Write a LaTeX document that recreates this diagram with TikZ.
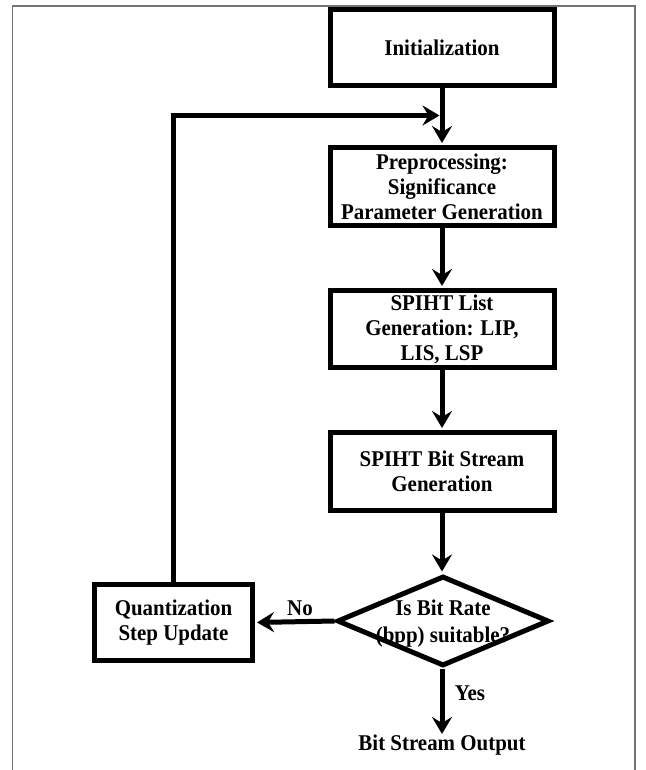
\documentclass[tikz,border=0pt]{standalone}
\usepackage{fontspec}
\setmainfont{Liberation Serif}[FakeStretch=0.93]
\usetikzlibrary{arrows.meta,shapes.geometric}
\begin{document}
\begin{tikzpicture}[x=1pt,y=-1pt,
  txt/.style={font=\bfseries\fontsize{22.5pt}{25pt}\selectfont, align=center, inner sep=0pt},
  box/.style={txt, draw, line width=5pt, minimum width=224pt},
  arr/.style={draw, line width=5pt, -{Stealth[length=17pt,width=20pt,inset=6pt]}},
  frameline/.style={draw=black!55, line width=1.3pt}
]
\useasboundingbox (0,0) rectangle (645,770);
\draw[frameline] (12.7,772) -- (12.7,6) -- (635,6) -- (635,772);

\node[box, minimum height=76pt] (init) at (442,47.5) {Initialization};
\node[box, minimum height=78pt] (pre) at (442,186.5) {Preprocessing:\\Significance\\Parameter Generation};
\node[box, minimum height=77pt] (list) at (442,329) {SPIHT List\\Generation: LIP,\\LIS, LSP};
\node[box, minimum height=78pt] (bits) at (442,471.5) {SPIHT Bit Stream\\Generation};
\node[draw, line width=5pt, shape=diamond, inner sep=0pt, minimum width=212pt, minimum height=90pt,
      label={[txt, name=dtext, yshift=-3pt, font=\bfseries\fontsize{22.5pt}{27pt}\selectfont]center:Is Bit Rate\\(bpp) suitable?}] (dec) at (443,621) {};
\node[box, minimum width=158pt, minimum height=76pt] (quant) at (173.5,622.5) {Quantization\\Step Update};
\node[txt, anchor=north, inner sep=1pt] (out) at (442,734) {Bit Stream Output};
\node[txt] (no) at (300,608) {No};
\node[txt] (yes) at (470,693) {Yes};
\coordinate (join) at (442,115.5);

\draw[arr, shorten >=2pt] (init) -- (pre);
\draw[arr, shorten >=2pt] (pre) -- (list);
\draw[arr, shorten >=2pt] (list) -- (bits);
\draw[arr, shorten >=2pt] (bits) -- (bits |- dec.north);
\draw[arr, shorten >=2.5pt] (quant.north) |- (join);
\draw[arr, shorten >=2pt] (dec.west) -- (quant.east);
\draw[arr] (dec.south -| out.north) -- (out.north);
\end{tikzpicture}
\end{document}
